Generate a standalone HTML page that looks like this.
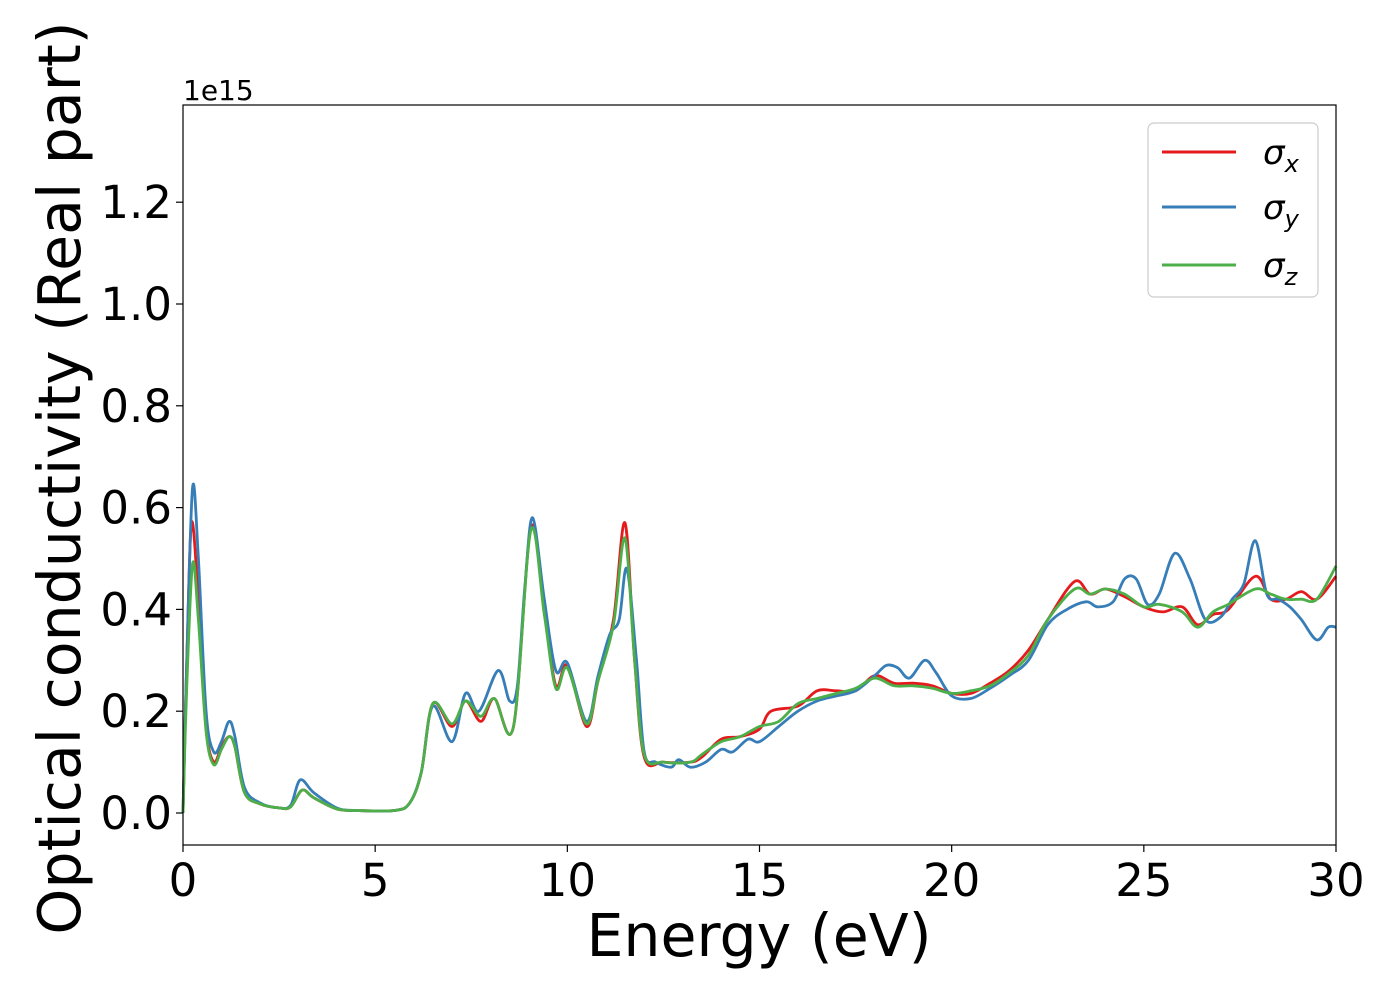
<!DOCTYPE html>
<html><head><meta charset="utf-8"><style>
body{margin:0;background:#fff}
svg text{font-family:"DejaVu Sans","Liberation Sans",sans-serif;fill:#000}
</style></head><body>
<svg width="1400" height="1000" viewBox="0 0 1400 1000" xmlns="http://www.w3.org/2000/svg" id="chart">
<g id="plot"></g>
<rect x="183" y="105" width="1153" height="740" fill="none" stroke="#000" stroke-width="1.2"/>
<g id="ticks"></g>
<text x="183" y="100" font-size="28">1e15</text>
<text x="759" y="956" font-size="58.5" text-anchor="middle">Energy (eV)</text>
<text transform="translate(80,478) rotate(-90)" font-size="58.5" text-anchor="middle">Optical conductivity (Real part)</text>
<g>
<rect x="1148" y="123" width="170" height="174" rx="6" fill="#fff" fill-opacity="0.8" stroke="#ccc" stroke-width="1.2"/>
<line x1="1162" y1="152" x2="1236" y2="152" stroke="#e41a1c" stroke-width="3"/>
<text x="1263" y="164" font-size="34" font-style="italic">σ<tspan font-size="24" dy="8">x</tspan></text>
<line x1="1162" y1="207" x2="1236" y2="207" stroke="#377eb8" stroke-width="3"/>
<text x="1263" y="219" font-size="34" font-style="italic">σ<tspan font-size="24" dy="8">y</tspan></text>
<line x1="1162" y1="265" x2="1236" y2="265" stroke="#4daf4a" stroke-width="3"/>
<text x="1263" y="277" font-size="34" font-style="italic">σ<tspan font-size="24" dy="8">z</tspan></text>
</g>
</svg>
<script>
const xTicks=[0,5,10,15,20,25,30];
const yTicks=[0.0,0.2,0.4,0.6,0.8,1.0,1.2];
const yTickLabels=["0.0","0.2","0.4","0.6","0.8","1.0","1.2"];
const energyY=[0,0.1,0.25,0.4,0.6,0.8,1.0,1.2,1.35,1.6,2.0,2.5,2.8,3.05,3.4,4.0,4.5,5.5,5.9,6.2,6.5,7.0,7.35,7.7,8.2,8.5,8.7,8.9,9.1,9.4,9.7,10.0,10.5,10.8,11.1,11.35,11.55,11.8,12.0,12.3,12.7,12.9,13.2,13.6,14.0,14.3,14.7,15.0,15.5,16.0,16.5,17.0,17.5,18.0,18.3,18.6,18.9,19.3,19.6,20.0,20.5,21.0,21.5,22.0,22.5,23.0,23.5,23.8,24.2,24.5,24.8,25.1,25.4,25.8,26.2,26.6,27.0,27.3,27.6,27.9,28.2,28.5,28.8,29.1,29.5,29.8,30];
const sigmaY=[0,0.3,0.64,0.5,0.2,0.12,0.14,0.18,0.15,0.05,0.02,0.01,0.015,0.065,0.04,0.01,0.005,0.005,0.02,0.08,0.21,0.14,0.235,0.2,0.28,0.22,0.25,0.45,0.58,0.42,0.28,0.295,0.18,0.27,0.35,0.38,0.48,0.3,0.12,0.1,0.09,0.105,0.09,0.1,0.125,0.12,0.145,0.14,0.17,0.2,0.22,0.23,0.24,0.27,0.29,0.285,0.265,0.3,0.275,0.23,0.225,0.245,0.27,0.3,0.37,0.4,0.415,0.405,0.415,0.46,0.46,0.41,0.43,0.51,0.46,0.38,0.385,0.42,0.45,0.535,0.43,0.42,0.405,0.38,0.34,0.365,0.365];
const energyX=[0,0.1,0.22,0.4,0.6,0.8,1.0,1.2,1.35,1.6,2.0,2.5,2.8,3.1,3.4,4.0,4.5,5.5,5.9,6.2,6.5,7.0,7.35,7.75,8.1,8.6,9.05,9.4,9.7,10.0,10.5,10.8,11.2,11.5,11.75,12.0,12.5,13.2,13.5,14.0,14.5,15.0,15.3,16.0,16.5,17.0,17.5,18.0,18.5,19.0,19.5,20.0,20.5,21.0,21.5,22.0,22.5,23.2,23.6,24.0,24.5,25.0,25.5,26.0,26.4,26.8,27.2,27.9,28.3,28.7,29.1,29.5,30];
const sigmaX=[0,0.3,0.57,0.42,0.17,0.1,0.13,0.15,0.13,0.04,0.018,0.01,0.012,0.045,0.03,0.008,0.005,0.005,0.02,0.08,0.215,0.17,0.22,0.18,0.225,0.17,0.56,0.4,0.25,0.29,0.17,0.26,0.38,0.57,0.3,0.11,0.1,0.1,0.11,0.145,0.15,0.165,0.2,0.21,0.24,0.24,0.24,0.27,0.255,0.255,0.25,0.235,0.235,0.255,0.28,0.32,0.38,0.455,0.43,0.44,0.425,0.405,0.395,0.405,0.37,0.39,0.4,0.465,0.42,0.42,0.435,0.42,0.465];
const energyZ=[0,0.1,0.25,0.4,0.6,0.8,1.0,1.2,1.35,1.6,2.0,2.5,2.8,3.1,3.4,4.0,4.5,5.5,5.9,6.2,6.5,7.0,7.35,7.75,8.1,8.6,9.05,9.4,9.7,10.0,10.5,10.8,11.2,11.5,11.75,12.0,12.5,13.2,13.5,14.0,14.5,15.0,15.5,16.0,16.5,17.0,17.5,18.0,18.5,19.0,19.5,20.0,20.5,21.0,21.5,22.0,22.5,23.2,23.6,24.0,24.5,25.0,25.4,26.0,26.4,26.8,27.2,27.9,28.3,28.7,29.1,29.5,30];
const sigmaZ=[0,0.25,0.49,0.38,0.16,0.095,0.125,0.15,0.13,0.04,0.018,0.01,0.012,0.045,0.03,0.008,0.005,0.005,0.02,0.08,0.215,0.175,0.22,0.19,0.225,0.17,0.555,0.39,0.245,0.285,0.175,0.26,0.37,0.54,0.3,0.115,0.1,0.1,0.115,0.14,0.15,0.17,0.18,0.215,0.225,0.235,0.245,0.265,0.25,0.25,0.245,0.235,0.24,0.25,0.275,0.31,0.38,0.44,0.43,0.44,0.43,0.405,0.41,0.395,0.365,0.395,0.41,0.44,0.43,0.42,0.42,0.42,0.485];
const X0=183,X1=1336,Y0=813,PXV=509;
function xs(e){return X0+(X1-X0)*e/30;}
function ys(v){return Y0-v*PXV;}
const NS="http://www.w3.org/2000/svg";
function pathFor(E,V){
  const p=E.map((e,i)=>[xs(e),ys(V[i])]);
  let d="M"+p[0][0]+","+p[0][1];
  for(let i=0;i<p.length-1;i++){
    const a=p[Math.max(0,i-1)],b=p[i],c=p[i+1],n=p[Math.min(p.length-1,i+2)];
    const c1x=b[0]+(c[0]-a[0])/6,c1y=b[1]+(c[1]-a[1])/6;
    const c2x=c[0]-(n[0]-b[0])/6,c2y=c[1]-(n[1]-b[1])/6;
    d+=" C"+c1x.toFixed(1)+","+c1y.toFixed(1)+" "+c2x.toFixed(1)+","+c2y.toFixed(1)+" "+c[0].toFixed(1)+","+c[1].toFixed(1);
  }
  return d;
}
const plot=document.getElementById("plot");
function addLine(E,V,color,name){
  const el=document.createElementNS(NS,"path");
  el.setAttribute("d",pathFor(E,V));
  el.setAttribute("fill","none");
  el.setAttribute("stroke",color);
  el.setAttribute("stroke-width","2.8");
  el.setAttribute("stroke-linejoin","round");
  
  
  plot.appendChild(el);
}
addLine(energyX,sigmaX,"#e41a1c","sigma-x-line");
addLine(energyY,sigmaY,"#377eb8","sigma-y-line");
addLine(energyZ,sigmaZ,"#4daf4a","sigma-z-line");
const tg=document.getElementById("ticks");
xTicks.forEach(t=>{
  const l=document.createElementNS(NS,"line");
  l.setAttribute("x1",xs(t));l.setAttribute("x2",xs(t));l.setAttribute("y1",845);l.setAttribute("y2",852);
  l.setAttribute("stroke","#000");l.setAttribute("stroke-width","1.2");
  
  
  tg.appendChild(l);
  const tx=document.createElementNS(NS,"text");
  tx.setAttribute("x",xs(t));tx.setAttribute("y",896);tx.setAttribute("font-size","45");tx.setAttribute("text-anchor","middle");
  tx.textContent=String(t);
  
  
  tg.appendChild(tx);
});
yTicks.forEach((t,i)=>{
  const l=document.createElementNS(NS,"line");
  l.setAttribute("x1",176);l.setAttribute("x2",183);l.setAttribute("y1",ys(t));l.setAttribute("y2",ys(t));
  l.setAttribute("stroke","#000");l.setAttribute("stroke-width","1.2");
  
  
  tg.appendChild(l);
  const tx=document.createElementNS(NS,"text");
  tx.setAttribute("x",172);tx.setAttribute("y",ys(t)+16);tx.setAttribute("font-size","45");tx.setAttribute("text-anchor","end");
  tx.textContent=yTickLabels[i];
  
  
  tg.appendChild(tx);
});
</script>
</body></html>
